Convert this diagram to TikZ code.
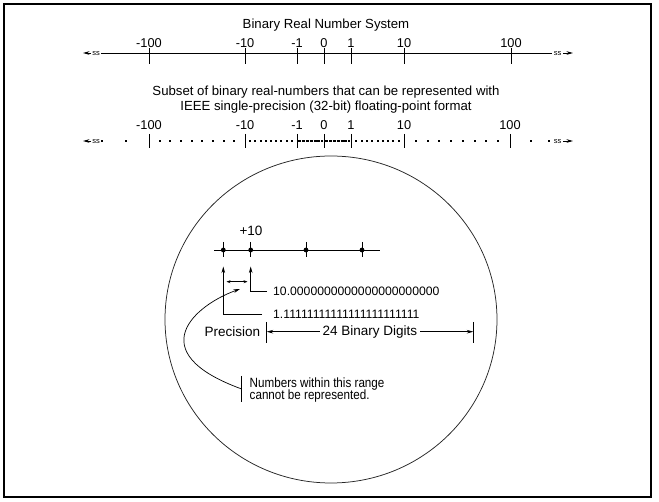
\documentclass[tikz,border=0pt]{standalone}
\usepackage{fontspec}
\setmainfont{Liberation Sans}
\newfontfamily\narrowfont[FakeStretch=0.87]{Liberation Sans}
\usetikzlibrary{arrows.meta}
\tikzset{
  lbl/.style={font=\fontsize{12.8}{13}\selectfont, inner sep=0pt},
  ttl/.style={font=\fontsize{13.2}{15}\selectfont, inner sep=0pt, align=center},
  brk/.style={font=\fontsize{7.5}{7.5}\selectfont, inner sep=0pt},
  axisline/.style={line width=0.85pt},
  tickline/.style={line width=1pt},
  arr/.style={-{Stealth[length=6.5pt,width=3.6pt]}},
  sarr/.style={{Stealth[length=4pt,width=3pt]}-{Stealth[length=4pt,width=3pt]}, line width=0.8pt},
  small/.style={font=\fontsize{12.2}{13}\selectfont, inner sep=0pt},
  mid/.style={font=\fontsize{13.5}{14}\selectfont, inner sep=0pt},
  note/.style={font=\narrowfont\fontsize{13.4}{13}\selectfont, inner sep=0pt, align=left},
  dense/.style={line width=2pt, dash pattern=on 3pt off 0.8pt}
}
\begin{document}
\begin{tikzpicture}[x=1pt,y=-1pt]
\useasboundingbox (0,0) rectangle (659,502);
\draw[line width=1.3pt] (4,4) rectangle (651,497);

% ---------- top axis ----------
\node[ttl] (title1) at (326,25) {Binary Real Number System};
\coordinate (L1a) at (91,53);  \coordinate (L1tip) at (83,53);
\coordinate (L1s) at (101,53); \coordinate (L1e) at (552,53);
\coordinate (R1a) at (563,53); \coordinate (R1tip) at (573,53);
\draw[axisline,arr] (L1a) -- (L1tip);
\node[brk] (brkA) at (96,53.3) {ss};
\draw[axisline] (L1s) -- (L1e);
\node[brk] (brkB) at (557.5,53.3) {ss};
\draw[axisline,arr] (R1a) -- (R1tip);
\foreach \x/\t/\n in {149/-100/a,245/-10/b,297/-1/c,324/0/d,351/1/e,404/10/f,511/100/g}{
  \coordinate (T1\n top) at (\x,48);
  \coordinate (T1\n bot) at (\x,64);
  \draw[tickline] (T1\n top) -- (T1\n bot);
  \node[lbl] (N1\n) at (\x,43) {\t};
}

% ---------- second axis ----------
\node[ttl] (title2) at (326,99.5) {Subset of binary real-numbers that can be represented with\\IEEE single-precision (32-bit) floating-point format};
\coordinate (L2a) at (91,141);  \coordinate (L2tip) at (83,141);
\coordinate (R2a) at (563,141); \coordinate (R2tip) at (573,141);
\draw[axisline,arr] (L2a) -- (L2tip);
\node[brk] (brkC) at (96,141.3) {ss};
\node[brk] (brkD) at (557.5,141.3) {ss};
\draw[axisline,arr] (R2a) -- (R2tip);
\foreach \x/\t/\n in {149/-100/a,245/-10/b,297/-1/c,324/0/d,351/1/e,404/10/f,510/100/g}{
  \coordinate (T2\n top) at (\x,134);
  \coordinate (T2\n bot) at (\x,148.5);
  \draw[tickline] (T2\n top) -- (T2\n bot);
  \node[lbl] (N2\n) at (\x,125) {\t};
}
% sparse dots
\foreach \x in {102,126,531,549}{\fill (\x-1,140) rectangle (\x+1,142);}
\foreach \i in {1,...,8}{
  \fill ({round(149+\i*96/9)-1},140) rectangle ({round(149+\i*96/9)+1},142);
  \fill ({round(404+\i*106/9)-1},140) rectangle ({round(404+\i*106/9)+1},142);
}
% fine dots
\foreach \i in {1,...,9}{
  \fill ({round(245+\i*52/10)-1},140) rectangle ({round(245+\i*52/10)+1},142);
  \fill ({round(351+\i*53/10)-1},140) rectangle ({round(351+\i*53/10)+1},142);
}
% dense section
\draw[dense] (298.3,141) -- (322.7,141);
\draw[dense] (325.3,141) -- (349.7,141);

% ---------- magnifier circle ----------
\draw[line width=0.75pt, black!85] (331,319.5) ellipse [x radius=166, y radius=163.5];

\node[mid] (plus10) at (251,231) {+10};
\coordinate (nlS) at (214,250); \coordinate (nlE) at (380,250);
\draw[axisline] (nlS) -- (nlE);
\foreach \x/\n in {223.3/p1,250.7/p2,306/p3,362/p4}{
  \coordinate (\n) at (\x,250);
  \draw[tickline] (\x,242) -- (\x,257);
  \fill (\n) circle (2.4);
}
\node[small, anchor=west] (zeros) at (273,291.7) {10.{00000}{00000}{00000}{00000}{00}};
\node[small, anchor=west] (ones) at (273,314) {1.{11111}{11111}{11111}{11111}{111}};
\coordinate (z0) at (267,291.7); \coordinate (a2) at (250.7,266.5);
\coordinate (o0) at (262,314);   \coordinate (a1) at (223.3,266.5);
\draw[axisline,arr] (z0) -| (a2);
\draw[axisline,arr] (o0) -| (a1);
\coordinate (d1) at (226.5,281.7); \coordinate (d2) at (247.5,281.7);
\draw[sarr] (d1) -- (d2);

\node[mid] (prec) at (232.5,331.7) {Precision};
\coordinate (b1t) at (266.7,322); \coordinate (b1b) at (266.7,343);
\coordinate (b2t) at (473.3,322); \coordinate (b2b) at (473.3,343);
\draw[tickline] (b1t) -- (b1b);
\draw[tickline] (b2t) -- (b2b);
\node[mid, inner xsep=3pt] (digits) at (370,331.7) {24 Binary Digits};
\draw[axisline,arr] (digits.west) -- (b1t |- digits.west);
\draw[axisline,arr] (digits.east) -- (b2t |- digits.east);

% note with curved arrow
\coordinate (nbT) at (241.7,376); \coordinate (nbB) at (241.7,401.7);
\draw[line width=0.8pt] (nbT) -- (nbB);
\node[note, anchor=north west] (note) at (249.5,377.5) {Numbers within this range\\[-0.5pt]cannot be represented.};
\coordinate (cS) at (241.7,389); \coordinate (cE) at (240,289);
\draw[line width=0.7pt, arr] (cS) .. controls (140,352) and (195,305) .. (cE);
\end{tikzpicture}
\end{document}
